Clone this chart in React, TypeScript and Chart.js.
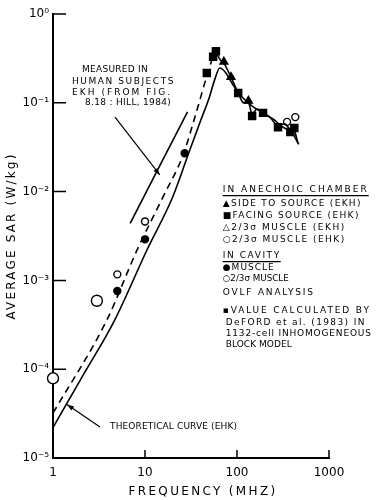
import React, { useEffect, useRef } from "react";
import { Chart, registerables } from "chart.js";

Chart.register(...registerables);

// ---------- data ----------
const xTickValues = [1, 10, 100, 1000];
const xTickLabels = ["1", "10", "100", "1000"];
const yTickValues = [1e-5, 1e-4, 1e-3, 1e-2, 1e-1, 1];
const yTickLabels = ["10⁻⁵", "10⁻⁴", "10⁻³", "10⁻²", "10⁻¹", "10⁰"];

// theoretical curve (solid)
const theoryFreq = [1, 2, 4.7, 10.5, 20, 30, 40, 50, 57, 65, 75, 90, 110, 150, 200, 250, 300, 400, 470];
const theorySar = [2.2e-5, 7.7e-5, 3.6e-4, 2.2e-3, 8.7e-3, 0.0275, 0.062, 0.115, 0.18, 0.247, 0.22, 0.16, 0.12, 0.09, 0.075, 0.065, 0.055, 0.045, 0.034];

// dashed curve
const dashFreq = [1, 3.86, 8.2, 15.7, 26, 35, 47, 55, 59];
const dashSar = [3.2e-5, 3.6e-4, 2.2e-3, 8.7e-3, 0.026, 0.07, 0.2, 0.33, 0.38];

// measured line through chamber data (solid)
const chamberLineFreq = [59, 65, 72, 86, 103, 118, 133, 146, 165, 192, 230, 279, 330, 380, 420, 460];
const chamberLineSar = [0.38, 0.31, 0.28, 0.195, 0.129, 0.1, 0.1, 0.075, 0.085, 0.077, 0.068, 0.055, 0.058, 0.05, 0.048, 0.035];

// measured in human subjects (EKH)
const humanFreq = [6.9, 29];
const humanSar = [4.4e-3, 0.079];

// markers
const facingFreq = [47, 55, 59, 103, 146, 192, 279, 380, 420];
const facingSar = [0.217, 0.33, 0.38, 0.129, 0.071, 0.077, 0.053, 0.047, 0.052];
const sideFreq = [72, 86, 133];
const sideSar = [0.29, 0.195, 0.105];
const muscleEhkFreq = [350, 430];
const muscleEhkSar = [0.061, 0.069];
const cavityMuscleFreq = [5, 10, 27];
const cavityMuscleSar = [7.6e-4, 2.9e-3, 0.027];
const cavityTwoThirdsFreq = [5, 10];
const cavityTwoThirdsSar = [1.17e-3, 4.6e-3];
const vlfFreq = [1, 3];
const vlfSar = [7.9e-5, 5.9e-4];

// annotations (anchors in data coordinates)
const measuredText = ["MEASURED IN", "HUMAN SUBJECTS", "EKH (FROM FIG.", "8.18 : HILL, 1984)"];
const measuredIndent = [10, 0, 0, 13];
const measuredLineOffsets = [0, 12, 23, 33];
const measuredWidths = [66, 103, 100, 86];
const measuredTextAnchor = [1.61, 0.234];
const measuredArrow = [[4.72, 0.069], [14.5, 0.0154]];
const theoryText = "THEORETICAL CURVE (EHK)";
const theoryTextAnchor = [4.17, 2.24e-5];
const theoryTextWidth = 127;
const theoryArrow = [[3.24, 2.24e-5], [1.42, 4.0e-5]];
const legendAnchor = [70, 0.0105];
const legendLines = [
  "IN ANECHOIC CHAMBER",
  "▲SIDE TO SOURCE (EKH)",
  "■FACING SOURCE (EHK)",
  "△2/3σ MUSCLE (EKH)",
  "○2/3σ MUSCLE (EHK)",
  "IN CAVITY",
  "●MUSCLE",
  "○2/3σ MUSCLE",
  "OVLF ANALYSIS",
  "▪VALUE CALCULATED BY",
  "DeFORD et al. (1983) IN",
  "1132-cell INHOMOGENEOUS",
  "BLOCK MODEL",
];
const legendIndent = [0, 0, 0, 0, 0, 0, 0, 0, 0, 0, 3, 3, 3];
const legendOffsets = [0, 14, 26, 38, 50, 66, 78, 89, 103, 121, 133, 144, 155];
const legendWidths = [146, 139, 137, 123, 123, 58, 52, 66, 92, 148, 140, 146, 66];
const legendUnderlined = [0, 5];
const xTitle = "FREQUENCY (MHZ)";
const yTitle = "AVERAGE SAR (W/kg)";

const pts = (xs: number[], ys: number[]) => xs.map((x, i) => ({ x, y: ys[i] }));

const FONT = "'DejaVu Sans', sans-serif";

const decorPlugin = {
  id: "decor",
  afterDraw(chart: any) {
    const ctx: CanvasRenderingContext2D = chart.ctx;
    const xs = chart.scales.x;
    const ys = chart.scales.y;
    const a = chart.chartArea;
    const px = (f: number) => xs.getPixelForValue(f);
    const py = (v: number) => ys.getPixelForValue(v);
    ctx.save();
    ctx.strokeStyle = "#000";
    ctx.fillStyle = "#000";
    // inward ticks
    ctx.lineWidth = 1.5;
    ctx.beginPath();
    yTickValues.forEach((v, i) => {
      if (i === 0) return;
      const y = py(v);
      ctx.moveTo(a.left, y);
      ctx.lineTo(a.left + 13, y);
    });
    xTickValues.forEach((v, i) => {
      if (i === 0) return;
      const x = px(v);
      ctx.moveTo(x, a.bottom);
      ctx.lineTo(x, a.bottom - 8);
    });
    ctx.stroke();

    // text fitted to a target width
    const text = (s: string, x: number, y: number, size: number, target: number, align: CanvasTextAlign = "left") => {
      ctx.font = `${size}px ${FONT}`;
      (ctx as any).letterSpacing = "0px";
      const w0 = ctx.measureText(s).width;
      let sp = (target - w0) / Math.max(1, s.length);
      if (sp < 0) {
        ctx.font = `${(size * target) / w0}px ${FONT}`;
        sp = 0;
      }
      (ctx as any).letterSpacing = `${sp}px`;
      ctx.textAlign = align;
      ctx.textBaseline = "middle";
      ctx.fillText(s, x, y);
      (ctx as any).letterSpacing = "0px";
      return target;
    };
    const arrow = (p0: number[], p1: number[]) => {
      const x0 = px(p0[0]), y0 = py(p0[1]), x1 = px(p1[0]), y1 = py(p1[1]);
      ctx.lineWidth = 1.2;
      ctx.beginPath();
      ctx.moveTo(x0, y0);
      ctx.lineTo(x1, y1);
      ctx.stroke();
      const ang = Math.atan2(y1 - y0, x1 - x0);
      const L = 7, W = 2.5;
      ctx.beginPath();
      ctx.moveTo(x1, y1);
      ctx.lineTo(x1 - L * Math.cos(ang) + W * Math.sin(ang), y1 - L * Math.sin(ang) - W * Math.cos(ang));
      ctx.lineTo(x1 - L * Math.cos(ang) - W * Math.sin(ang), y1 - L * Math.sin(ang) + W * Math.cos(ang));
      ctx.closePath();
      ctx.fill();
    };

    // measured annotation
    const mx = px(measuredTextAnchor[0]);
    const my = py(measuredTextAnchor[1]);
    measuredText.forEach((s, i) => text(s, mx + measuredIndent[i], my + measuredLineOffsets[i], 9, measuredWidths[i]));
    arrow(measuredArrow[0], measuredArrow[1]);

    // theoretical annotation
    text(theoryText, px(theoryTextAnchor[0]), py(theoryTextAnchor[1]), 9, theoryTextWidth);
    arrow(theoryArrow[0], theoryArrow[1]);

    // legend block
    const lx = px(legendAnchor[0]);
    const ly = py(legendAnchor[1]);
    legendLines.forEach((s, i) => {
      const y = ly + legendOffsets[i];
      const x = lx + legendIndent[i];
      const w = text(s, x, y, 9, legendWidths[i]);
      if (legendUnderlined.includes(i)) {
        ctx.lineWidth = 1.2;
        ctx.beginPath();
        ctx.moveTo(x, y + 6);
        ctx.lineTo(x + w, y + 6);
        ctx.stroke();
      }
    });

    // axis titles
    text(xTitle, (a.left + a.right) / 2 + 12, a.bottom + 34, 12, 149, "center");
    ctx.save();
    ctx.translate(12, (a.top + a.bottom) / 2);
    ctx.rotate(-Math.PI / 2);
    text(yTitle, 0, 0, 12, 167, "center");
    ctx.restore();
    ctx.restore();
  },
};

export default function App() {
  const ref = useRef<HTMLCanvasElement | null>(null);
  useEffect(() => {
    if (!ref.current) return;
    const lineDs = (data: any[], dash: number[] = [], width = 1.6) => ({
      type: "line" as const,
      data,
      borderColor: "#000",
      borderWidth: width,
      borderDash: dash,
      pointRadius: 0,
      cubicInterpolationMode: "monotone" as const,
      fill: false,
    });
    const markDs = (data: any[], style: string, radius: number, filled: boolean) => ({
      type: "scatter" as const,
      data,
      pointStyle: style,
      pointRadius: radius,
      pointBackgroundColor: filled ? "#000" : "#fff",
      pointBorderColor: "#000",
      pointBorderWidth: 1.4,
      showLine: false,
      clip: false,
    });
    const chart = new Chart(ref.current, {
      type: "scatter",
      data: {
        datasets: [
          lineDs(pts(theoryFreq, theorySar)),
          lineDs(pts(dashFreq, dashSar), [7, 5]),
          lineDs(pts(chamberLineFreq, chamberLineSar)),
          lineDs(pts(humanFreq, humanSar)),
          markDs(pts(facingFreq, facingSar), "rect", 5, true),
          markDs(pts(sideFreq, sideSar), "triangle", 4.5, true),
          markDs(pts(muscleEhkFreq, muscleEhkSar), "circle", 3.5, false),
          markDs(pts(cavityMuscleFreq, cavityMuscleSar), "circle", 3.5, true),
          markDs(pts(cavityTwoThirdsFreq, cavityTwoThirdsSar), "circle", 3.5, false),
          markDs(pts(vlfFreq, vlfSar), "circle", 5.5, false),
        ] as any,
      },
      options: {
        animation: false,
        responsive: true,
        maintainAspectRatio: false,
        layout: { padding: { top: 14, right: 51, left: 0, bottom: 0 } },
        plugins: { legend: { display: false }, tooltip: { enabled: false } },
        scales: {
          x: {
            type: "logarithmic",
            min: 1,
            max: 1000,
            afterBuildTicks: (s: any) => {
              s.ticks = xTickValues.map((v) => ({ value: v }));
            },
            afterFit: (s: any) => {
              s.height = 42;
            },
            ticks: {
              autoSkip: false,
              maxRotation: 0,
              padding: 8,
              color: "#000",
              font: { family: FONT, size: 12 },
              callback: (v: any) => xTickLabels[xTickValues.indexOf(Number(v))] ?? "",
            },
            grid: { drawOnChartArea: false, drawTicks: false },
            border: { display: true, color: "#000", width: 2 },
          },
          y: {
            type: "logarithmic",
            min: 1e-5,
            max: 1,
            afterBuildTicks: (s: any) => {
              s.ticks = yTickValues.map((v) => ({ value: v }));
            },
            afterFit: (s: any) => {
              s.width = 53;
            },
            ticks: {
              autoSkip: false,
              padding: 4,
              color: "#000",
              font: { family: FONT, size: 12 },
              callback: (v: any) => {
                const i = yTickValues.findIndex((t) => Math.abs(Math.log10(t) - Math.log10(Number(v))) < 1e-6);
                return i >= 0 ? yTickLabels[i] : "";
              },
            },
            grid: { drawOnChartArea: false, drawTicks: false },
            border: { display: true, color: "#000", width: 2 },
          },
        },
      },
      plugins: [decorPlugin],
    });
    return () => chart.destroy();
  }, []);
  return (
    <div style={{ position: "absolute", left: 0, top: 0, width: 380, height: 500, background: "#fff" }}>
      <canvas ref={ref} />
    </div>
  );
}
